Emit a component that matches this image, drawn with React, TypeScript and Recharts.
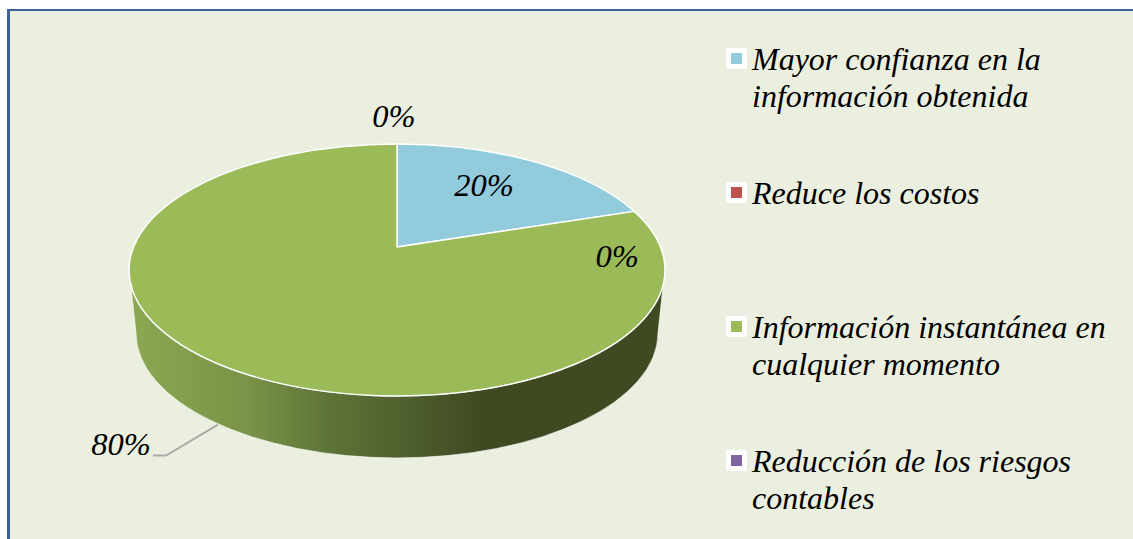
import { Legend, Pie, PieChart } from "recharts";

const CATEGORIES = [
  "Mayor confianza en la información obtenida",
  "Reduce los costos",
  "Información instantánea en cualquier momento",
  "Reducción de los riesgos contables",
];
const VALUES = [20, 0, 80, 0];
const COLORS = ["#92CBDC", "#C0504D", "#9BBB59", "#8064A2"];

const pieData = CATEGORIES.map((name, i) => ({ name, value: VALUES[i], fill: COLORS[i] }));

const SERIF = '"Liberation Serif", "Times New Roman", serif';
const TILT = 126 / 268; // squash of the disc
const SKEW = 0.1825; // how far the perspective pushes the pie's centre up
const DEPTH = 63;
const INSET = 7;

// label placement relative to the rim point of each slice
const LABEL_SHIFT = [
  { dx: -48, dy: 24 },
  { dx: -17, dy: 45 },
  { dx: -97, dy: 19 },
  { dx: -3, dy: -28 },
];

// unit circle -> unit circle, so the centre lands above the middle of the ellipse
function rimPoint(angle: number) {
  const t = ((90 - angle) * Math.PI) / 180;
  const u = Math.sin(t);
  const v = Math.cos(t);
  const d = 1 + SKEW * v;
  return { u: (u * Math.sqrt(1 - SKEW * SKEW)) / d, v: (v + SKEW) / d };
}

function Slice3D(props: any) {
  const { cx, cy, outerRadius, startAngle, endAngle, fill } = props;
  if (Math.abs(endAngle - startAngle) < 0.01) return <g />;
  const rx = outerRadius;
  const ry = outerRadius * TILT;
  const a = rimPoint(startAngle);
  const b = rimPoint(endAngle);
  const phiA = (Math.atan2(a.u, a.v) * 180) / Math.PI;
  const phiB = (Math.atan2(b.u, b.v) * 180) / Math.PI;
  const large = (phiB - phiA + 720) % 360 > 180 ? 1 : 0;
  const face =
    `M${cx},${cy - SKEW * ry} L${cx + a.u * rx},${cy - a.v * ry} ` +
    `A${rx},${ry} 0 ${large} 1 ${cx + b.u * rx},${cy - b.v * ry} Z`;

  // the side wall only shows on the slice that passes the front of the pie
  const passesFront = startAngle > -90 && endAngle < -90;
  const topX = rx * 0.993;
  const topY = cy + 15;
  const lowX = rx - INSET;
  const wall =
    `M${cx - topX},${topY} A${rx},${ry} 0 0 0 ${cx + topX},${topY} ` +
    `L${cx + lowX},${cy + DEPTH} A${lowX},${ry - 1} 0 0 1 ${cx - lowX},${cy + DEPTH} Z`;

  return (
    <g>
      {passesFront && <path d={wall} fill="url(#wallShade)" stroke="#FFFFFF" strokeWidth={0.6} />}
      <path d={face} fill={fill} stroke="#FFFFFF" strokeWidth={1.5} strokeLinejoin="round" />
    </g>
  );
}

function SliceLabel(props: any) {
  const { cx, cy, outerRadius, midAngle, percent, index } = props;
  const rx = outerRadius;
  const ry = outerRadius * TILT;
  const rim = rimPoint(midAngle);
  const outside = index === 2;
  const x = cx + rim.u * rx * (outside ? 0.985 : 1);
  const y = cy - rim.v * ry + (outside ? DEPTH - 1 : 0);
  const shift = LABEL_SHIFT[index];
  return (
    <g>
      {outside && (
        <polyline
          points={`${x},${y} ${x - 52},${y + 31} ${x - 65},${y + 31}`}
          fill="none"
          stroke="#A9ABA8"
          strokeWidth={2}
        />
      )}
      <text
        x={x + shift.dx}
        y={y + shift.dy}
        textAnchor="middle"
        dominantBaseline="central"
        fontFamily={SERIF}
        fontStyle="italic"
        fontSize={32.5}
        fill="#000000"
      >
        {`${Math.round(percent * 100)}%`}
      </text>
    </g>
  );
}

function LegendList({ payload }: any) {
  return (
    <div style={{ position: "absolute", left: 726, top: 41, fontFamily: SERIF, fontStyle: "italic", fontSize: 32, lineHeight: "37px", color: "#000" }}>
      {(payload || []).map((item: any) => (
        <div key={item.value} style={{ position: "relative", height: 134, paddingLeft: 26, width: 372 }}>
          <span
            style={{
              position: "absolute",
              left: 0,
              top: 7,
              width: 11,
              height: 11,
              border: "5px solid #FFFFFF",
              borderRadius: 2,
              background: item.color,
            }}
          />
          {item.value}
        </div>
      ))}
    </div>
  );
}

export default function App() {
  return (
    <div style={{ position: "fixed", left: 0, top: 0, width: 1133, height: 539, background: "#FFFFFF", overflow: "hidden" }}>
      <div
        style={{
          position: "absolute",
          left: 7,
          top: 9,
          right: 0,
          bottom: 0,
          background: "#EBEFDF",
          borderLeft: "3px solid #3A6398",
          borderTop: "2px solid #3A6398",
        }}
      />
      <PieChart
        width={1133}
        height={539}
        margin={{ top: 0, right: 0, bottom: 0, left: 0 }}
        style={{ position: "absolute", left: 0, top: 0 }}
      >
        <defs>
          <linearGradient id="wallShade" x1="0" y1="0" x2="1" y2="0">
            <stop offset="0%" stopColor="#8BA852" />
            <stop offset="22%" stopColor="#7A9347" />
            <stop offset="37%" stopColor="#5F7438" />
            <stop offset="66%" stopColor="#3F4A22" />
            <stop offset="100%" stopColor="#3F4A22" />
          </linearGradient>
        </defs>
        <Pie
          data={pieData}
          dataKey="value"
          nameKey="name"
          cx={397}
          cy={270}
          outerRadius={268}
          startAngle={90}
          endAngle={-270}
          shape={Slice3D}
          label={SliceLabel}
          labelLine={false}
          isAnimationActive={false}
        />
        <Legend content={LegendList} itemSorter={null} wrapperStyle={{ left: 0, top: 0, width: 0, height: 0 }} />
      </PieChart>
    </div>
  );
}
